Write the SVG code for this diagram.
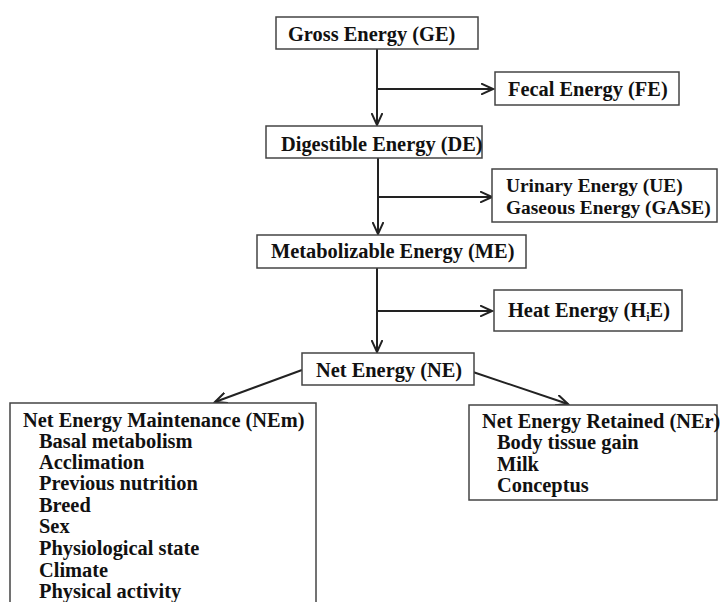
<svg xmlns="http://www.w3.org/2000/svg" width="720" height="602" viewBox="0 0 720 602">
<defs>
<marker id="arr" markerUnits="userSpaceOnUse" markerWidth="14" markerHeight="12" refX="12" refY="6" orient="auto">
<path d="M0,0.5 L12,6 L0,11.5" fill="none" stroke="#222" stroke-width="2"/>
</marker>
<style>
.box{fill:#fff;stroke:#444;stroke-width:1.5}
.t{font-family:"Liberation Serif","Times New Roman",serif;font-weight:bold;font-size:20.4px;fill:#111}
.s{font-size:19.4px}
.c{fill:none;stroke:#222;stroke-width:2}
</style>
</defs>
<rect width="720" height="602" fill="#fff"/>
<g id="connectors">
<line class="c" x1="377" y1="49" x2="377" y2="125" marker-end="url(#arr)"/>
<line class="c" x1="377" y1="89" x2="493" y2="89" marker-end="url(#arr)"/>
<line class="c" x1="378" y1="158" x2="378" y2="234" marker-end="url(#arr)"/>
<line class="c" x1="378" y1="197" x2="492" y2="197" marker-end="url(#arr)"/>
<line class="c" x1="377" y1="268" x2="377" y2="352" marker-end="url(#arr)"/>
<line class="c" x1="377" y1="311" x2="492" y2="311" marker-end="url(#arr)"/>
<line class="c" x1="302" y1="370" x2="215" y2="402" marker-end="url(#arr)"/>
<line class="c" x1="470" y1="371" x2="568" y2="404" marker-end="url(#arr)"/>
</g>
<g id="ge"><rect class="box" x="276" y="17" width="202" height="32"/><text class="t" x="288" y="41">Gross Energy (GE)</text></g>
<g id="fe"><rect class="box" x="495" y="72" width="184" height="33"/><text class="t" x="508" y="96">Fecal Energy (FE)</text></g>
<g id="de"><rect class="box" x="266" y="126" width="216" height="32"/><text class="t" x="281" y="151">Digestible Energy (DE)</text></g>
<g id="ue"><rect class="box" x="492" y="169" width="225" height="53"/><text class="t s" x="506" y="192">Urinary Energy (UE)</text><text class="t s" x="506" y="214">Gaseous Energy (GASE)</text></g>
<g id="me"><rect class="box" x="257" y="235" width="269" height="33"/><text class="t" x="271" y="258">Metabolizable Energy (ME)</text></g>
<g id="he"><rect class="box" x="494" y="290" width="188" height="41"/><text class="t" x="508" y="317">Heat Energy (H<tspan font-size="12" dy="4">i</tspan><tspan dy="-4">E)</tspan></text></g>
<g id="ne"><rect class="box" x="302" y="353" width="172" height="32"/><text class="t" x="316" y="377">Net Energy (NE)</text></g>
<g id="nem"><rect class="box" x="10" y="403" width="306" height="210"/>
<text class="t" x="23" y="427">Net Energy Maintenance (NEm)</text>
<text class="t" x="39" y="448">Basal metabolism</text>
<text class="t" x="39" y="469">Acclimation</text>
<text class="t" x="39" y="490">Previous nutrition</text>
<text class="t" x="39" y="512">Breed</text>
<text class="t" x="39" y="533">Sex</text>
<text class="t" x="39" y="555">Physiological state</text>
<text class="t" x="39" y="577">Climate</text>
<text class="t" x="39" y="598">Physical activity</text>
</g>
<g id="ner"><rect class="box" x="469" y="405" width="248" height="95"/>
<text class="t" x="482" y="428">Net Energy Retained (NEr)</text>
<text class="t" x="497" y="449">Body tissue gain</text>
<text class="t" x="497" y="471">Milk</text>
<text class="t" x="497" y="492">Conceptus</text>
</g>
</svg>
